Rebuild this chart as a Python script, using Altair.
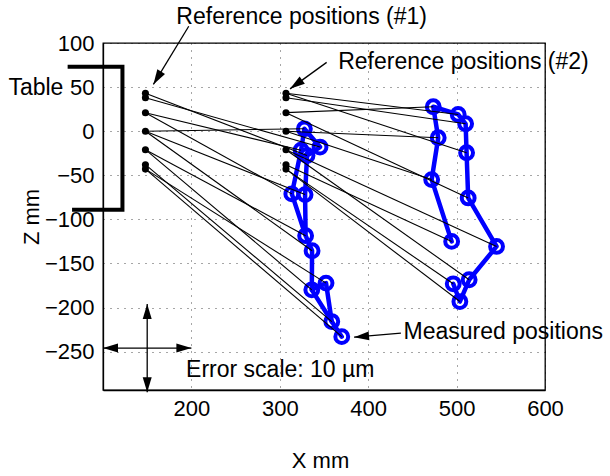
import math
import altair as alt
import pandas as pd

# ---------------- data ----------------
X_DOMAIN = [100, 600]
Z_DOMAIN = [-293.5, 100]
W, H = 442, 347

x_ticks = [200, 300, 400, 500, 600]
z_ticks = [-250, -200, -150, -100, -50, 0, 50, 100]

ref1_x = 148
ref2_x = 307
ref_levels = [43, 38, 21, 0, -21, -38, -43]

# measured positions for reference set #1 (left loop)
m1_x = [327.8, 345.5, 324.1, 330.8, 313.6, 328.6, 329.2, 336.5, 352.3, 336.2, 358.8, 370.1]
m1_z = [2.7, -18.0, -21.6, -27.6, -71.1, -71.9, -118.5, -135.6, -172.3, -179.9, -215.9, -233.0]
m1_ref = [0, 38, 21, 43, 21, 0, -21, 0, -43, -21, -38, -43]
m1_paths = [[11, 10, 8, 9, 7, 6, 4, 2, 0, 1, 3, 5, 6], [9, 10]]

# measured positions for reference set #2 (right loop)
m2_x = [473.6, 501.8, 510.2, 479.2, 511.3, 471.8, 513.1, 494.4, 545.2, 514.2, 496.2, 503.7]
m2_z = [27.7, 19.0, 8.4, -7.5, -24.5, -54.9, -75.7, -125.0, -130.7, -168.5, -173.1, -193.2]
m2_ref = [21, 43, 38, 0, 43, 0, 21, -38, -21, -21, -43, -43]
m2_paths = [[7, 5, 3, 0, 1, 2, 4, 6, 8, 9, 11, 10]]

# table outline
table_x = [60, 122, 122, 65]
table_z = [73, 73, -89, -89]

# annotations
label_text = ["Reference positions (#1)", "Reference positions (#2)",
              "Measured positions", "Table", "Error scale: 10 \u00b5m"]
label_x = [183, 366, 440, -7, 194]
label_z = [129, 79, -228, 49, -271]

arrow_x0 = [197, 353, 437]
arrow_z0 = [119, 78, -229]
arrow_x1 = [157, 311.6, 384]
arrow_z1 = [53, 48, -233.6]

# error scale cross (centre and half length, 10 um)
err_cx, err_cz, err_half = 150, -246, 50

# ---------------- tables ----------------
kx = W / (X_DOMAIN[1] - X_DOMAIN[0])
kz = H / (Z_DOMAIN[1] - Z_DOMAIN[0])


def head_angle(x0, z0, x1, z1):
    dx = (x1 - x0) * kx
    dy = -(z1 - z0) * kz
    return math.degrees(math.atan2(dx, -dy)) % 360


refs = pd.DataFrame(
    [{"x": rx, "z": lv} for rx in (ref1_x, ref2_x) for lv in ref_levels])

meas_rows, link_rows, path_rows = [], [], []
for loop, (mx, mz, mr, paths, rx) in enumerate(
        [(m1_x, m1_z, m1_ref, m1_paths, ref1_x),
         (m2_x, m2_z, m2_ref, m2_paths, ref2_x)]):
    for i in range(len(mx)):
        meas_rows.append({"x": mx[i], "z": mz[i]})
        link_rows.append({"x": rx, "z": mr[i], "x1": mx[i], "z1": mz[i]})
    for p, path in enumerate(paths):
        for o, idx in enumerate(path):
            path_rows.append({"g": f"{loop}-{p}", "o": o, "x": mx[idx], "z": mz[idx]})
meas = pd.DataFrame(meas_rows)
links = pd.DataFrame(link_rows)
loops = pd.DataFrame(path_rows)

table = pd.DataFrame({"x": table_x, "z": table_z, "o": list(range(len(table_x)))})
labels = pd.DataFrame({"t": label_text, "x": label_x, "z": label_z})

arrow_lines = pd.DataFrame({"x": arrow_x0, "z": arrow_z0, "x1": arrow_x1, "z1": arrow_z1})
cross = pd.DataFrame({
    "x": [err_cx - err_half, err_cx],
    "z": [err_cz, err_cz + err_half],
    "x1": [err_cx + err_half, err_cx],
    "z1": [err_cz, err_cz - err_half],
})
all_lines = pd.concat([arrow_lines, cross], ignore_index=True)

heads = []
for a in arrow_lines.itertuples():
    heads.append({"x": a.x1, "z": a.z1, "ang": head_angle(a.x, a.z, a.x1, a.z1)})
for a in cross.itertuples():
    heads.append({"x": a.x1, "z": a.z1, "ang": head_angle(a.x, a.z, a.x1, a.z1)})
    heads.append({"x": a.x, "z": a.z, "ang": head_angle(a.x1, a.z1, a.x, a.z)})
heads = pd.DataFrame(heads)

# ---------------- chart ----------------
xs = alt.Scale(domain=X_DOMAIN, nice=False, zero=False)
zs = alt.Scale(domain=Z_DOMAIN, nice=False, zero=False)
FONT = "Liberation Sans"
MINUS = "datum.value < 0 ? '\u2212' + format(abs(datum.value), 'd') : datum.label"

x_axis = alt.Axis(values=x_ticks, title="X mm", grid=True, ticks=False,
                  labelFlush=False, labelPadding=8, labelFontSize=22,
                  titleFontSize=22, titleFontWeight="normal",
                  titleX=W / 2 - 4, titleY=77, titleBaseline="alphabetic")
z_axis = alt.Axis(values=z_ticks, title="Z mm", grid=True, ticks=False,
                  labelFlush=False, labelPadding=9, labelFontSize=22,
                  labelExpr=MINUS,
                  titleFontSize=22, titleFontWeight="normal",
                  titleX=-72, titleY=H / 2, titleAngle=270,
                  titleBaseline="middle", titleAlign="center")

X = lambda f: alt.X(f"{f}:Q", scale=xs, axis=x_axis, title="X mm")
Z = lambda f: alt.Y(f"{f}:Q", scale=zs, axis=z_axis, title="Z mm")

loop_lines = alt.Chart(loops).mark_line(
    color="#0000ff", strokeWidth=4.5, strokeJoin="round", strokeCap="round"
).encode(x=X("x"), y=Z("z"), detail="g:N", order="o:Q")

loop_pts = alt.Chart(meas).mark_point(
    shape="circle", filled=False, color="#0000ff", strokeWidth=4, size=165, opacity=1
).encode(x=X("x"), y=Z("z"))

link_lines = alt.Chart(links).mark_rule(color="black", strokeWidth=1.1).encode(
    x=X("x"), y=Z("z"), x2="x1:Q", y2="z1:Q")

ref_pts = alt.Chart(refs).mark_point(
    shape="circle", filled=True, color="black", size=50, opacity=1
).encode(x=X("x"), y=Z("z"))

table_line = alt.Chart(table).mark_line(
    color="black", strokeWidth=4, strokeJoin="miter"
).encode(x=X("x"), y=Z("z"), order="o:Q")

arrow_rules = alt.Chart(all_lines).mark_rule(color="black", strokeWidth=1.3).encode(
    x=X("x"), y=Z("z"), x2="x1:Q", y2="z1:Q")

arrow_heads = alt.Chart(heads).mark_point(
    shape="M0,0L0.6,2L-0.6,2Z", filled=True, color="black", size=225,
    opacity=1, strokeWidth=0
).encode(x=X("x"), y=Z("z"), angle=alt.Angle("ang:Q", scale=None))

texts = alt.Chart(labels).mark_text(
    align="left", baseline="middle", fontSize=23, font=FONT, color="black"
).encode(x=X("x"), y=Z("z"), text="t:N")

chart = alt.layer(
    table_line, loop_lines, loop_pts, link_lines, ref_pts,
    arrow_rules, arrow_heads, texts
).properties(
    width=W, height=H,
    padding={"left": 103, "top": 43, "right": 610 - 103 - W, "bottom": 476 - 43 - H},
    autosize=alt.AutoSizeParams(type="none"),
    background="white",
).configure_view(
    stroke="black", strokeWidth=1.3
).configure_axis(
    domain=True, domainColor="black", domainWidth=1.3,
    gridColor="black", gridDash=[1, 6], gridWidth=1, gridOpacity=0.7,
    labelColor="black", titleColor="black", labelFont=FONT, titleFont=FONT,
)

chart.save("out.html", embed_options={"renderer": "svg", "actions": False})
